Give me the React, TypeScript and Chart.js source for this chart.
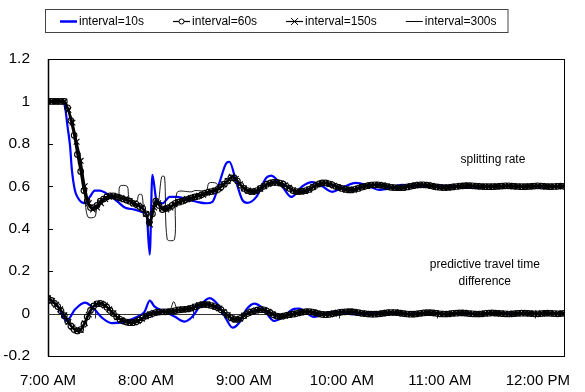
import React, { useEffect, useRef } from 'react';
import { Chart, registerables } from 'chart.js';

Chart.register(...registerables);

// ---------------- data ----------------
const seriesLabels = ['interval=10s', 'interval=60s', 'interval=150s', 'interval=300s'];

const xTickValues = [0, 60, 120, 180, 240, 300]; // minutes after 7:00 AM
const xTickLabels = ['7:00 AM', '8:00 AM', '9:00 AM', '10:00 AM', '11:00 AM', '12:00 PM'];
const xMax = 316;
const yMin = -0.2;
const yMax = 1.2;
const yStep = 0.2;

const annotationSplit = 'splitting rate';
const annotationTravel = ['predictive travel time', 'difference'];

// interval=10s (blue), irregular sample times (minutes after 7:00)
const blueSplitT = [0, 9, 10.5, 12, 13.5, 14.6, 16.5, 18.3, 20.5, 22.6, 25.6, 28.7, 31.7, 35, 39, 43, 47, 53, 59.2, 60.4, 62.3, 63.9, 66.4, 70.2, 74.5, 78.7, 82.4, 87, 91, 97, 100.7, 105, 109.3, 111.1, 115.4, 119, 122, 127.6, 133.7, 136.7, 143.4, 149, 155.7, 161.8, 167.9, 174, 180, 188.6, 196.5, 202.7, 209, 216.7, 227, 240, 255, 270, 290, 316];
const blueSplitV = [1, 1, 0.97, 0.88, 0.79, 0.68, 0.58, 0.546, 0.525, 0.52, 0.55, 0.58, 0.58, 0.57, 0.55, 0.525, 0.5, 0.49, 0.475, 0.466, 0.278, 0.654, 0.536, 0.52, 0.55, 0.55, 0.545, 0.535, 0.527, 0.52, 0.527, 0.617, 0.71, 0.715, 0.617, 0.536, 0.522, 0.55, 0.64, 0.65, 0.6, 0.55, 0.6, 0.62, 0.6, 0.574, 0.593, 0.616, 0.6, 0.583, 0.59, 0.607, 0.598, 0.602, 0.598, 0.601, 0.6, 0.6];
const blueTravelT = [0, 6.1, 11.4, 16.5, 22.6, 27.5, 33, 39, 47, 55, 59.2, 62.3, 65.3, 71.4, 77.5, 83.6, 88.5, 92.8, 98.9, 105, 109.3, 113, 117.2, 121.5, 126.4, 131.2, 138.6, 143.4, 150.8, 153.8, 163, 170.3, 178, 186, 194.7, 202.7, 215, 230, 250, 275, 300, 316];
const blueTravelV = [0.072, 0.033, -0.035, 0.019, 0.052, 0.028, -0.019, -0.045, -0.038, -0.014, 0.009, 0.061, 0.033, 0.009, -0.014, -0.038, -0.014, 0.033, 0.073, 0.033, -0.028, -0.066, -0.042, 0.019, 0.047, 0.028, -0.035, -0.019, 0.022, 0.024, -0.016, 0.003, 0.009, -0.004, 0.002, 0.002, -0.003, 0.002, -0.002, 0.001, 0, 0];

// interval=60s, one value every 2 minutes
const step60 = 2;
const split60 = [1, 1, 1, 1, 1, 1, 0.97, 0.91, 0.84, 0.75, 0.67, 0.58, 0.53, 0.5, 0.5, 0.51, 0.53, 0.54, 0.55, 0.555, 0.555, 0.55, 0.545, 0.54, 0.535, 0.53, 0.52, 0.515, 0.505, 0.495, 0.47, 0.43, 0.47, 0.53, 0.51, 0.49, 0.495, 0.5, 0.51, 0.52, 0.525, 0.53, 0.536, 0.54, 0.545, 0.55, 0.553, 0.56, 0.567, 0.572, 0.575, 0.578, 0.585, 0.597, 0.61, 0.625, 0.64, 0.64, 0.625, 0.605, 0.59, 0.58, 0.575, 0.575, 0.58, 0.59, 0.6, 0.61, 0.615, 0.618, 0.618, 0.615, 0.61, 0.6, 0.59, 0.58, 0.575, 0.575, 0.577, 0.58, 0.585, 0.595, 0.605, 0.612, 0.616, 0.616, 0.612, 0.607, 0.6, 0.595, 0.59, 0.585, 0.583, 0.583, 0.586, 0.59, 0.596, 0.6, 0.603, 0.606, 0.607, 0.607, 0.605, 0.602, 0.598, 0.595, 0.594, 0.593, 0.593, 0.594, 0.597, 0.6, 0.603, 0.606, 0.607, 0.607, 0.606, 0.603, 0.6, 0.597, 0.595, 0.594, 0.594, 0.595, 0.597, 0.599, 0.601, 0.602, 0.603, 0.603, 0.602, 0.601, 0.6, 0.599, 0.598, 0.598, 0.598, 0.599, 0.6, 0.601, 0.602, 0.602, 0.601, 0.6, 0.599, 0.598, 0.598, 0.599, 0.6, 0.601, 0.602, 0.601, 0.6, 0.599, 0.598, 0.599, 0.6, 0.601, 0.6];
const travel60 = [0.072, 0.062, 0.048, 0.033, 0.012, -0.01, -0.035, -0.058, -0.075, -0.082, -0.075, -0.05, -0.015, 0.015, 0.036, 0.046, 0.048, 0.042, 0.03, 0.015, 0, -0.015, -0.027, -0.035, -0.04, -0.043, -0.043, -0.038, -0.03, -0.02, -0.012, -0.005, 0, 0.005, 0.007, 0.008, 0.008, 0.009, 0.011, 0.014, 0.017, 0.019, 0.02, 0.022, 0.026, 0.032, 0.038, 0.042, 0.043, 0.042, 0.038, 0.033, 0.028, 0.018, 0.005, -0.008, -0.02, -0.027, -0.028, -0.022, -0.01, 0, 0.007, 0.012, 0.016, 0.019, 0.018, 0.012, 0.004, -0.005, -0.012, -0.014, -0.012, -0.008, -0.005, -0.003, 0, 0.004, 0.007, 0.009, 0.009, 0.007, 0.003, -0.001, -0.004, -0.005, -0.004, -0.001, 0.002, 0.005, 0.007, 0.008, 0.009, 0.009, 0.007, 0.004, 0.001, 0, -0.002, -0.003, -0.003, -0.002, 0, 0.002, 0.004, 0.005, 0.005, 0.004, 0.002, 0, -0.002, -0.003, -0.003, -0.001, 0.001, 0.003, 0.004, 0.004, 0.003, 0.001, -0.001, -0.002, -0.002, -0.001, 0.001, 0.002, 0.003, 0.003, 0.002, 0, -0.001, -0.002, -0.002, -0.001, 0.001, 0.002, 0.003, 0.002, 0.001, 0, -0.001, -0.002, -0.001, 0, 0.001, 0.002, 0.002, 0.001, 0, -0.001, -0.001, 0, 0.001, 0.002, 0.001, 0, -0.001, 0, 0.001];

// interval=150s, one value every 2.5 minutes
const step150 = 2.5;
const split150 = [1, 1, 1, 1, 1, 0.96, 0.9, 0.81, 0.72, 0.6, 0.52, 0.49, 0.5, 0.52, 0.54, 0.55, 0.555, 0.55, 0.545, 0.54, 0.53, 0.52, 0.51, 0.5, 0.47, 0.42, 0.5, 0.52, 0.495, 0.49, 0.5, 0.515, 0.525, 0.53, 0.54, 0.545, 0.55, 0.555, 0.56, 0.57, 0.575, 0.58, 0.59, 0.61, 0.625, 0.645, 0.635, 0.61, 0.59, 0.58, 0.575, 0.578, 0.588, 0.6, 0.612, 0.618, 0.618, 0.614, 0.605, 0.593, 0.582, 0.576, 0.575, 0.578, 0.585, 0.597, 0.608, 0.615, 0.616, 0.611, 0.603, 0.596, 0.59, 0.585, 0.583, 0.585, 0.59, 0.597, 0.602, 0.605, 0.607, 0.607, 0.604, 0.599, 0.595, 0.594, 0.593, 0.594, 0.597, 0.601, 0.604, 0.607, 0.607, 0.605, 0.602, 0.598, 0.595, 0.594, 0.594, 0.597, 0.599, 0.601, 0.603, 0.603, 0.602, 0.601, 0.599, 0.598, 0.598, 0.598, 0.6, 0.601, 0.602, 0.602, 0.6, 0.599, 0.598, 0.598, 0.6, 0.601, 0.602, 0.601, 0.599, 0.598, 0.599, 0.6, 0.601];
const travel150 = [0.072, 0.06, 0.042, 0.02, -0.008, -0.04, -0.065, -0.08, -0.078, -0.045, -0.005, 0.03, 0.045, 0.047, 0.038, 0.02, 0.002, -0.018, -0.03, -0.038, -0.042, -0.042, -0.035, -0.024, -0.013, -0.004, 0.003, 0.007, 0.008, 0.009, 0.01, 0.014, 0.018, 0.02, 0.021, 0.025, 0.032, 0.039, 0.043, 0.043, 0.038, 0.032, 0.024, 0.008, -0.008, -0.022, -0.028, -0.024, -0.01, 0.002, 0.01, 0.015, 0.019, 0.017, 0.009, -0.003, -0.012, -0.014, -0.011, -0.006, -0.003, 0.001, 0.006, 0.009, 0.009, 0.006, 0.001, -0.003, -0.005, -0.003, 0.001, 0.004, 0.007, 0.008, 0.009, 0.008, 0.004, 0.001, -0.001, -0.003, -0.003, -0.001, 0.001, 0.004, 0.005, 0.005, 0.003, 0, -0.002, -0.003, -0.002, 0, 0.003, 0.004, 0.003, 0.001, -0.001, -0.002, -0.002, 0, 0.002, 0.003, 0.003, 0.001, -0.001, -0.002, -0.002, 0, 0.002, 0.003, 0.002, 0, -0.001, -0.002, -0.001, 0.001, 0.002, 0.002, 0, -0.001, -0.001, 0, 0.002, 0.001, 0, -0.001, 0];

// interval=300s (thin line), irregular sample times
const thinSplitT = [0, 10, 12.5, 15, 17.5, 20, 22.5, 24.4, 28.7, 30, 33, 38, 43, 44, 48.5, 49.5, 52, 54.5, 55.5, 57.5, 58.5, 60, 62, 64, 66, 67.5, 69.6, 71.4, 73, 77.5, 79, 88, 90, 97, 98.5, 103, 104.5, 110, 113, 118, 125, 137, 143, 152, 160, 170, 178, 186, 195, 203, 217, 231, 245, 262, 280, 300, 316];
const thinSplitV = [1, 1, 0.96, 0.88, 0.8, 0.7, 0.55, 0.456, 0.456, 0.5, 0.53, 0.545, 0.55, 0.6, 0.6, 0.55, 0.53, 0.53, 0.56, 0.56, 0.5, 0.47, 0.42, 0.5, 0.54, 0.52, 0.645, 0.645, 0.35, 0.35, 0.57, 0.574, 0.58, 0.58, 0.615, 0.615, 0.6, 0.625, 0.645, 0.605, 0.575, 0.617, 0.615, 0.575, 0.585, 0.616, 0.6, 0.583, 0.6, 0.607, 0.593, 0.607, 0.593, 0.602, 0.601, 0.6, 0.6];
const thinTravelT = [0, 5, 10, 15, 18, 21, 25, 30, 33, 37, 42, 47, 52, 57, 62, 67, 72, 74.5, 77, 80, 85, 90, 95, 100, 105, 110, 115, 120, 125, 130, 135, 140, 145, 150, 160, 170, 180, 190, 200, 220, 240, 260, 280, 300, 316];
const thinTravelV = [0.075, 0.045, -0.005, -0.07, -0.085, -0.07, 0, 0.045, 0.05, 0.03, -0.015, -0.038, -0.042, -0.028, -0.006, 0.004, 0.008, 0.01, 0.056, 0.006, 0.02, 0.032, 0.043, 0.04, 0.025, -0.005, -0.028, -0.012, 0.01, 0.02, 0.005, -0.013, -0.01, -0.003, 0.009, -0.005, 0.007, 0.004, -0.003, -0.002, -0.001, -0.001, -0.001, -0.001, 0];

// minor tick marks on the zero line (minutes)
const zeroLineTicks = [29, 89, 178, 238, 298];

// ---------------- helpers ----------------
const FONT = "'Liberation Sans', Arial, sans-serif";
const pairs = (t: number[], v: number[]) => v.map((y, i) => ({ x: t[i], y }));
const gridded = (step: number, v: number[]) => v.map((y, i) => ({ x: i * step, y }));

type Style = { color: string; width: number; pointStyle: any; radius: number; order: number; monotone?: boolean };
const styles: Style[] = [
  { color: '#0000ff', width: 2.2, pointStyle: false, radius: 0, order: 4, monotone: true },
  { color: '#000000', width: 2.2, pointStyle: 'circle', radius: 2.8, order: 3 },
  { color: '#000000', width: 2, pointStyle: 'crossRot', radius: 4, order: 2 },
  { color: '#000000', width: 0.9, pointStyle: false, radius: 0, order: 1 },
];

const seriesData = [
  [pairs(blueSplitT, blueSplitV), pairs(blueTravelT, blueTravelV)],
  [gridded(step60, split60), gridded(step60, travel60)],
  [gridded(step150, split150), gridded(step150, travel150)],
  [pairs(thinSplitT, thinSplitV), pairs(thinTravelT, thinTravelV)],
];

function drawMarker(ctx: CanvasRenderingContext2D, style: Style, x: number, y: number) {
  if (style.pointStyle === 'circle') {
    ctx.beginPath();
    ctx.arc(x, y, 2.5, 0, Math.PI * 2);
    ctx.fillStyle = '#fff';
    ctx.fill();
    ctx.lineWidth = 1;
    ctx.strokeStyle = style.color;
    ctx.stroke();
  } else if (style.pointStyle === 'crossRot') {
    const r = 3.5;
    ctx.beginPath();
    ctx.moveTo(x - r, y - r);
    ctx.lineTo(x + r, y + r);
    ctx.moveTo(x - r, y + r);
    ctx.lineTo(x + r, y - r);
    ctx.lineWidth = 1;
    ctx.strokeStyle = style.color;
    ctx.stroke();
  }
}

const decorPlugin = {
  id: 'decor',
  beforeDatasetsDraw(chart: any) {
    const { ctx, chartArea: a, scales } = chart;
    const y0 = Math.round(scales.y.getPixelForValue(0)) + 0.5;
    ctx.save();
    ctx.strokeStyle = '#000';
    ctx.lineWidth = 1;
    ctx.strokeRect(Math.round(a.left) + 0.5, Math.round(a.top) + 0.5, Math.round(a.right - a.left), Math.round(a.bottom - a.top));
    ctx.lineWidth = 1.5;
    ctx.beginPath();
    ctx.moveTo(a.left + 0.5, a.top);
    ctx.lineTo(a.left + 0.5, a.bottom + 0.5);
    ctx.stroke();
    ctx.lineWidth = 1;
    for (let v = yMin; v <= yMax + 1e-9; v += yStep) {
      const py = Math.round(scales.y.getPixelForValue(v)) + 0.5;
      ctx.beginPath();
      ctx.moveTo(a.left, py);
      ctx.lineTo(a.left + 5, py);
      ctx.stroke();
    }
    ctx.strokeStyle = '#333';
    ctx.lineWidth = 1.2;
    ctx.beginPath();
    ctx.moveTo(a.left, y0);
    ctx.lineTo(a.right, y0);
    ctx.stroke();
    ctx.lineWidth = 1;
    zeroLineTicks.forEach((m) => {
      const px = Math.round(scales.x.getPixelForValue(m)) + 0.5;
      ctx.beginPath();
      ctx.moveTo(px, y0 - 4);
      ctx.lineTo(px, y0 + 4);
      ctx.stroke();
    });
    ctx.restore();
  },
  afterDraw(chart: any) {
    const { ctx, scales } = chart;
    ctx.save();
    ctx.fillStyle = '#000';
    ctx.textAlign = 'center';
    ctx.textBaseline = 'middle';
    ctx.font = `12px ${FONT}`;
    ctx.fillText(annotationSplit, scales.x.getPixelForValue(272.5), scales.y.getPixelForValue(0.725));
    ctx.fillText(annotationTravel[0], scales.x.getPixelForValue(267.5), scales.y.getPixelForValue(0.23));
    ctx.fillText(annotationTravel[1], scales.x.getPixelForValue(267.5), scales.y.getPixelForValue(0.15));

    const legendY = 21;
    const sample = 17;
    let x = 60;
    const items: { x: number; tx: number }[] = [];
    ctx.textAlign = 'left';
    seriesLabels.forEach((label) => {
      const w = ctx.measureText(label).width;
      items.push({ x, tx: x + sample + 2 });
      x = x + sample + 2 + w + 29;
    });
    const boxLeft = 45;
    const boxRight = x - 29 + 11;
    ctx.strokeStyle = '#444';
    ctx.lineWidth = 1;
    ctx.strokeRect(boxLeft + 0.5, 9.5, boxRight - boxLeft, 23);
    seriesLabels.forEach((label, i) => {
      const st = styles[i];
      const it = items[i];
      ctx.strokeStyle = st.color;
      ctx.lineWidth = i === 0 ? 2.5 : i === 3 ? 1 : 1.2;
      ctx.beginPath();
      ctx.moveTo(it.x, legendY + 0.5);
      ctx.lineTo(it.x + sample, legendY + 0.5);
      ctx.stroke();
      drawMarker(ctx, st, it.x + sample / 2, legendY + 0.5);
      ctx.fillStyle = '#000';
      ctx.fillText(label, it.tx, legendY + 1);
    });
    ctx.restore();
  },
};

export default function App() {
  const ref = useRef<HTMLCanvasElement | null>(null);
  useEffect(() => {
    if (!ref.current) return;
    const datasets: any[] = [];
    seriesData.forEach((pair, i) => {
      const st = styles[i];
      pair.forEach((data) => {
        datasets.push({
          label: seriesLabels[i],
          data,
          borderColor: st.color,
          backgroundColor: 'rgba(0,0,0,0)',
          borderWidth: st.width,
          pointStyle: st.pointStyle,
          pointRadius: st.radius,
          pointBorderWidth: 1.1,
          pointBorderColor: st.color,
          pointBackgroundColor: 'rgba(255,255,255,0)',
          tension: st.monotone ? 0 : 0.3,
          cubicInterpolationMode: st.monotone ? 'monotone' : 'default',
          order: st.order,
          fill: false,
        });
      });
    });
    const chart = new Chart(ref.current, {
      type: 'line',
      data: { datasets },
      plugins: [decorPlugin],
      options: {
        animation: false,
        responsive: false,
        devicePixelRatio: 1,
        layout: { padding: { left: 0, top: 59, right: 21, bottom: 0 } },
        plugins: { legend: { display: false }, tooltip: { enabled: false } },
        scales: {
          x: {
            type: 'linear',
            min: 0,
            max: xMax,
            grid: { display: false },
            border: { display: false },
            afterBuildTicks: (s: any) => {
              s.ticks = xTickValues.map((v) => ({ value: v }));
            },
            afterFit: (s: any) => {
              s.height = 36;
            },
            ticks: {
              autoSkip: false,
              maxRotation: 0,
              padding: 8,
              color: '#000',
              font: { family: FONT, size: 15 },
              callback: (v: any) => xTickLabels[xTickValues.indexOf(Number(v))] ?? '',
            },
          },
          y: {
            min: yMin,
            max: yMax,
            grid: { display: false },
            border: { display: false },
            afterFit: (s: any) => {
              s.width = 48;
            },
            ticks: {
              stepSize: yStep,
              padding: 10,
              color: '#000',
              font: { family: FONT, size: 15.5 },
              callback: (v: any) => String(Number(Number(v).toFixed(1))),
            },
          },
        },
      },
    });
    return () => chart.destroy();
  }, []);
  return (
    <div style={{ position: 'fixed', left: 0, top: 0, width: 585, height: 392, background: '#fff' }}>
      <canvas ref={ref} width={585} height={392} style={{ display: 'block' }} />
    </div>
  );
}
